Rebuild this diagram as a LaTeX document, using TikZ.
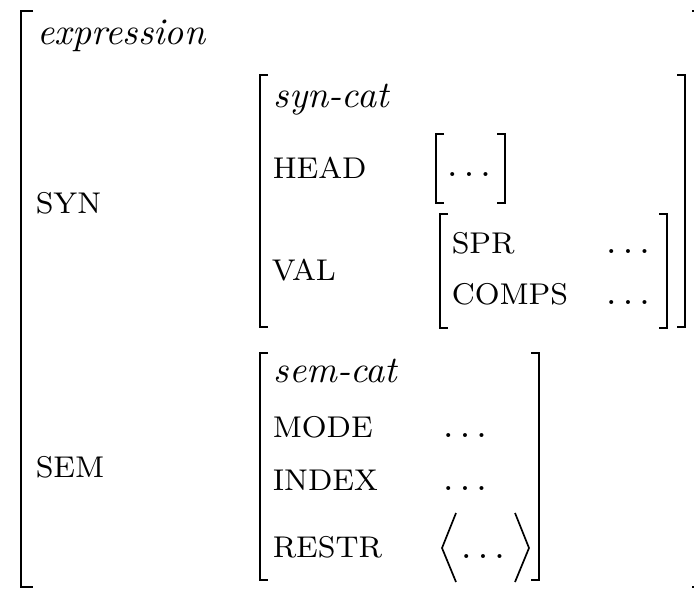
\documentclass[tikz,border=0pt]{standalone}
\begin{document}
\begin{tikzpicture}[x=0.2667pt,y=-0.2667pt,
  lbl/.style={anchor=base west,inner sep=0pt,font=\fontsize{10}{12}\selectfont},
  attr/.style={anchor=base west,inner sep=0pt,font=\fontsize{8}{10}\selectfont},
  dotlbl/.style={anchor=base,inner sep=0pt,font=\fontsize{10}{12}\selectfont},
  brk/.style={line width=0.6pt},
  ang/.style={line width=0.45pt}]
\useasboundingbox (0,0) rectangle (694,588);
% outer matrix
\draw[brk] (33,11) -- (21,11) -- (21,587) -- (33,587);
\draw[brk] (692,11) -- (702,11) -- (702,587) -- (692,587);
\node[lbl] (expr) at (37,44) {\textit{expression}};
\node[attr] (syn) at (35,213) {SYN};
\node[attr] (sem) at (35,477) {SEM};
% syn-cat matrix
\draw[brk] (268,75) -- (260,75) -- (260,327) -- (268,327);
\draw[brk] (677,75) -- (685,75) -- (685,327) -- (677,327);
\node[lbl] (syncat) at (273,107) {\textit{syn-cat}};
\node[attr] (head) at (272,178) {HEAD};
\node[attr] (val) at (271,280) {VAL};
% head value
\draw[brk] (444,134) -- (436,134) -- (436,203) -- (444,203);
\draw[brk] (497,134) -- (505,134) -- (505,203) -- (497,203);
\node[dotlbl] (hdots) at (469,176) {$\dots$};
% val matrix
\draw[brk] (448,214) -- (440,214) -- (440,328) -- (448,328);
\draw[brk] (659,214) -- (667,214) -- (667,328) -- (659,328);
\node[attr] (spr) at (451,253) {SPR};
\node[attr] (comps) at (451,304) {COMPS};
\node[dotlbl] (sdots) at (628,253) {$\dots$};
\node[dotlbl] (cdots) at (628,304) {$\dots$};
% sem-cat matrix
\draw[brk] (268,353) -- (260,353) -- (260,580) -- (268,580);
\draw[brk] (531,353) -- (539,353) -- (539,580) -- (531,580);
\node[lbl] (semcat) at (273,382) {\textit{sem-cat}};
\node[attr] (mode) at (272,437) {MODE};
\node[attr] (index) at (272,490) {INDEX};
\node[attr] (restr) at (272,557) {RESTR};
\node[dotlbl] (mdots) at (465,437) {$\dots$};
\node[dotlbl] (idots) at (465,490) {$\dots$};
\node[dotlbl] (rdots) at (483,558) {$\dots$};
\draw[ang] (456,513) -- (442,548) -- (456,582);
\draw[ang] (515,513) -- (529,548) -- (515,582);
\end{tikzpicture}
\end{document}
